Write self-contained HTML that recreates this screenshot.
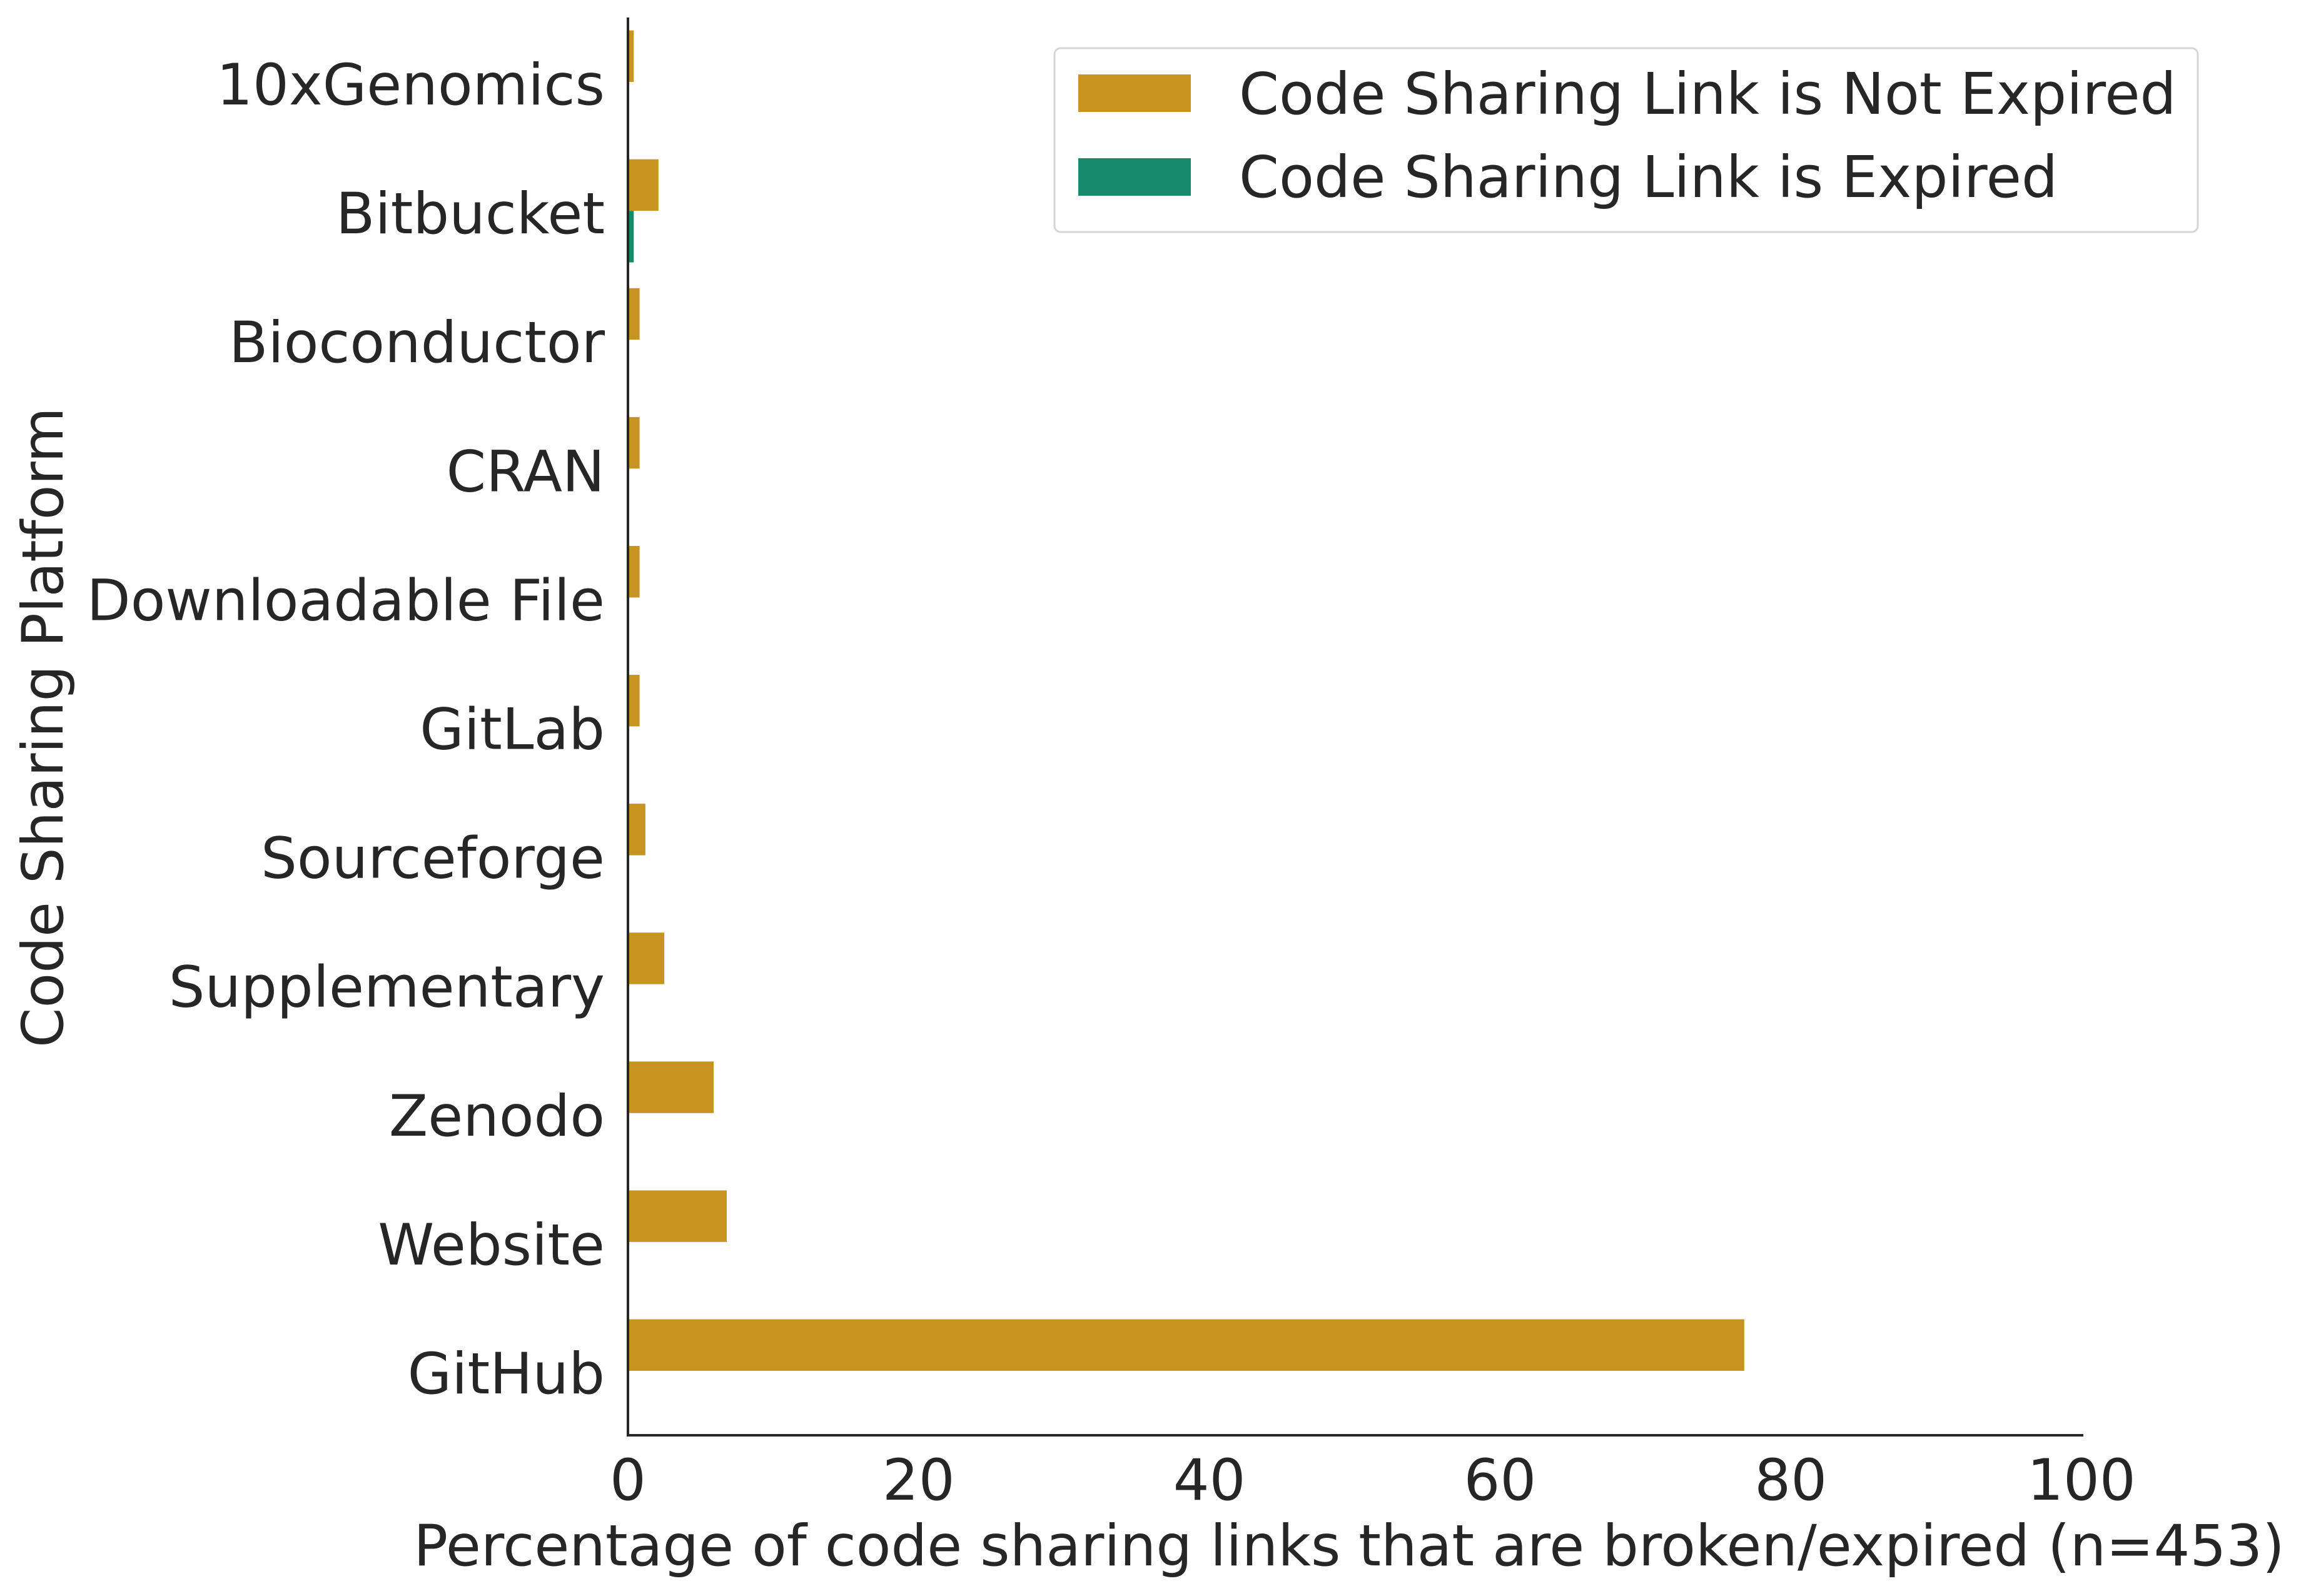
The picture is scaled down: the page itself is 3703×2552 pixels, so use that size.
<!DOCTYPE html>
<html><head><meta charset="utf-8"><style>
html,body{margin:0;padding:0;background:#fff;}
svg{display:block;font-family:"DejaVu Sans","Liberation Sans",sans-serif;}
</style></head><body>
<svg id="chart" width="3703" height="2552" viewBox="0 0 3703 2552" xmlns="http://www.w3.org/2000/svg">
<rect width="3703" height="2552" fill="#fff"/>
<g id="bars"></g>
<g id="yticks"></g>
<g id="xticks"></g>
<line x1="1004" y1="28" x2="1004" y2="2297" stroke="#262626" stroke-width="4"/>
<line x1="1002" y1="2295" x2="3331" y2="2295" stroke="#262626" stroke-width="4"/>
<text x="2157" y="2503" font-size="91" fill="#262626" text-anchor="middle">Percentage of code sharing links that are broken/expired (n=453)</text>
<text transform="translate(100,1675) rotate(-90)" font-size="91" fill="#262626">Code Sharing Platform</text>
<g>
<rect x="1686" y="77" width="1828" height="294" rx="10" fill="#fff" stroke="#d6d6d6" stroke-width="3"/>
<rect x="1724" y="119" width="180" height="60" fill="#c79321"/>
<text x="1981" y="182" font-size="91.6" fill="#262626">Code Sharing Link is Not Expired</text>
<rect x="1724" y="253" width="180" height="60" fill="#168a6a"/>
<text x="1981" y="315" font-size="91.6" fill="#262626">Code Sharing Link is Expired</text>
</g>
</svg>
<script>
const categories = ["10xGenomics","Bitbucket","Bioconductor","CRAN","Downloadable File","GitLab","Sourceforge","Supplementary","Zenodo","Website","GitHub"];
const notExpired = [0.4, 2.1, 0.8, 0.8, 0.8, 0.8, 1.2, 2.5, 5.9, 6.8, 76.8];
const expired = [0, 0.4, 0, 0, 0, 0, 0, 0, 0, 0, 0];
const xTicks = [0, 20, 40, 60, 80, 100];

const NS = "http://www.w3.org/2000/svg";
const X0 = 1004, X1 = 3328, YTOP = 28, YBOT = 2295;
const pitch = (YBOT - YTOP) / categories.length;
function xScale(v){ return X0 + (v / 100) * (X1 - X0); }
function yCenter(i){ return YTOP + (i + 0.5) * pitch; }
const barH = pitch * 0.8 / 2;

const bars = document.getElementById('bars');
const yt = document.getElementById('yticks');
const xt = document.getElementById('xticks');

categories.forEach((c, i) => {
  const cy = yCenter(i);
  [[notExpired, "#c79321", "not-expired", -barH], [expired, "#168a6a", "expired", 0]].forEach(s => {
    const v = s[0][i];
    const r = document.createElementNS(NS, 'rect');
    
    
    r.setAttribute('x', xScale(0));
    r.setAttribute('y', cy + s[3]);
    r.setAttribute('width', Math.max(0, xScale(v) - xScale(0)));
    r.setAttribute('height', barH);
    r.setAttribute('fill', s[1]);
    bars.appendChild(r);
  });
  const t = document.createElementNS(NS, 'text');
  
  
  t.setAttribute('x', 967);
  t.setAttribute('y', cy + 36);
  t.setAttribute('text-anchor', 'end');
  t.setAttribute('font-size', '91');
  t.setAttribute('fill', '#262626');
  t.textContent = c;
  yt.appendChild(t);
});

xTicks.forEach(v => {
  const t = document.createElementNS(NS, 'text');
  
  
  t.setAttribute('x', xScale(v));
  t.setAttribute('y', 2398);
  t.setAttribute('text-anchor', 'middle');
  t.setAttribute('font-size', '91');
  t.setAttribute('fill', '#262626');
  t.textContent = v;
  xt.appendChild(t);
});
</script>
</body></html>
